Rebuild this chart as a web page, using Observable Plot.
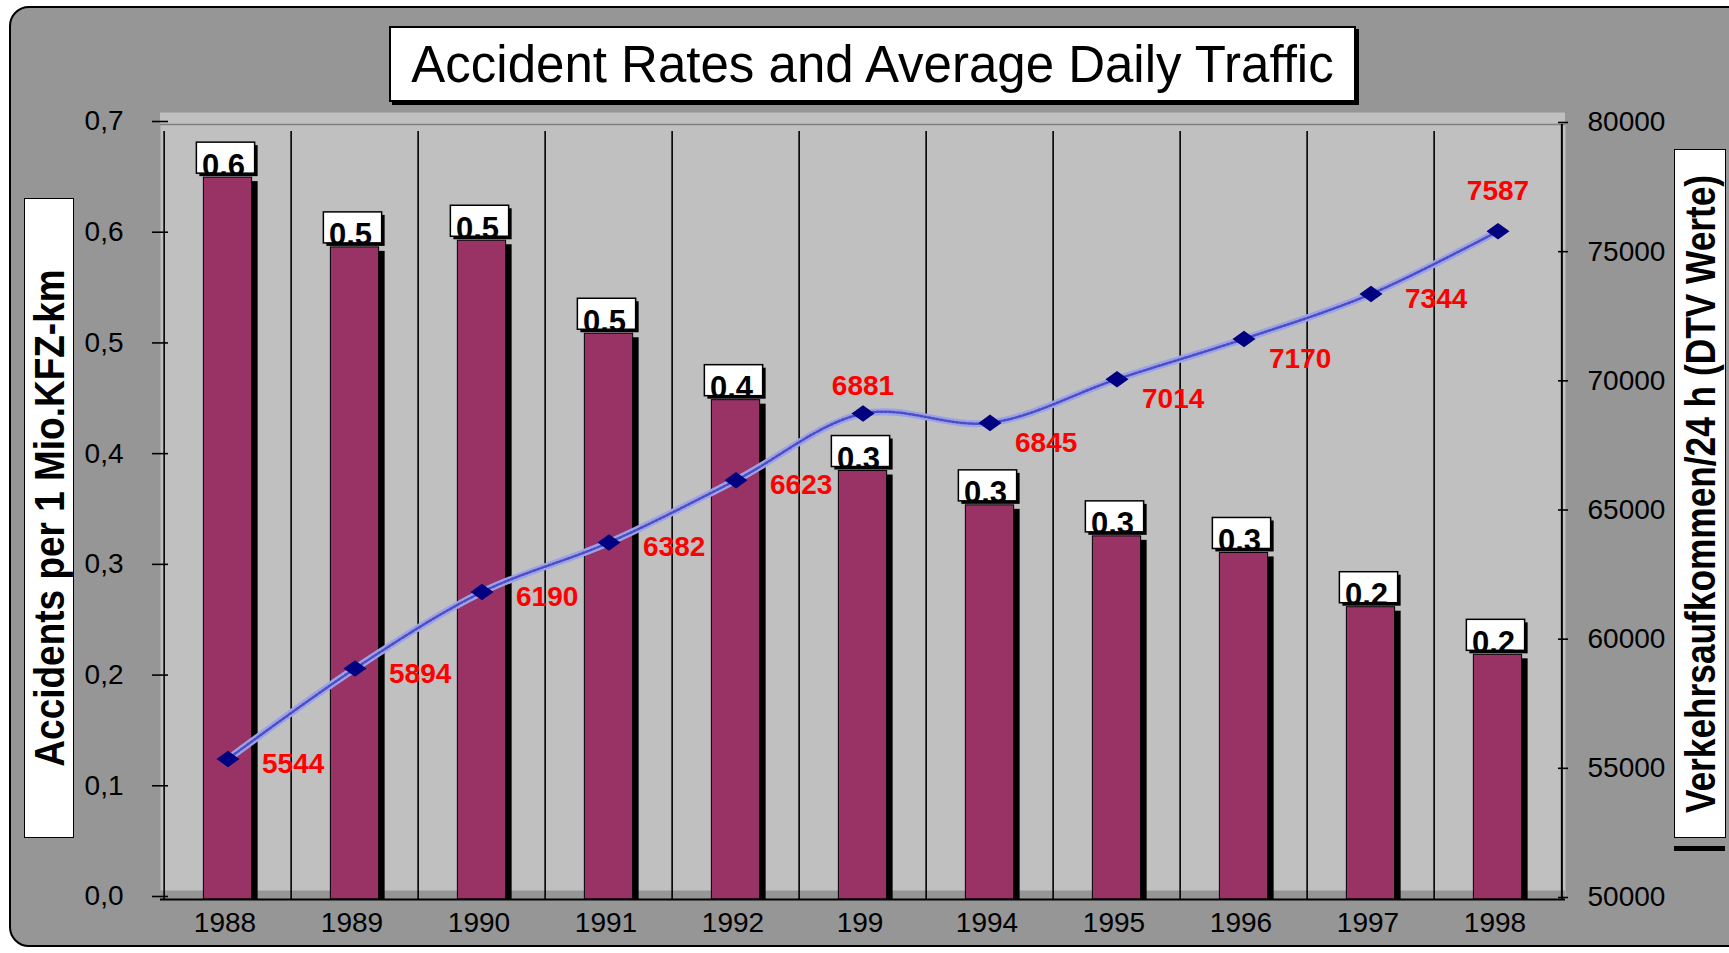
<!DOCTYPE html>
<html>
<head>
<meta charset="utf-8">
<script src="https://cdn.jsdelivr.net/npm/d3@7"></script>
<script src="https://cdn.jsdelivr.net/npm/@observablehq/plot@0.6"></script>
<style>
  html, body { margin: 0; padding: 0; background: #ffffff; overflow: hidden; }
  #stage { position: relative; width: 1729px; height: 953px; overflow: hidden; font-family: "Liberation Sans", Arial, sans-serif; }
  #outer { position: absolute; left: 9px; top: 6px; width: 1740px; height: 941px; background: #969696; border: 2.5px solid #000; border-radius: 20px; box-sizing: border-box; }
  #chart { position: absolute; left: 0; top: 0; }
  #title { position: absolute; left: 389px; top: 26px; width: 967px; height: 76px; background: #fff; border: 2px solid #000; box-shadow: 3px 3px 0 #000; box-sizing: border-box; display: flex; align-items: center; justify-content: center; font-size: 51px; color: #000; white-space: nowrap; }
  .ybox { position: absolute; background: #fff; border: 1.5px solid #000; box-sizing: border-box; }
  .ybox span { position: absolute; left: 50%; top: 50%; white-space: nowrap; color: #000; font-size: 43px; line-height: 1; }
  #ytitleL { left: 24px; top: 198px; width: 50px; height: 640px; }
  #ytitleL span { font-weight: bold; transform: translate(-50%, -50%) rotate(-90deg) scaleX(0.86); }
  #ytitleR { left: 1674px; top: 149px; width: 52px; height: 689px; }
  #ytitleR span { font-weight: bold; transform: translate(-50%, -50%) rotate(-90deg) scaleX(0.82); }
  #rbar { position: absolute; left: 1674px; top: 846px; width: 51px; height: 5px; background: #000; }
</style>
</head>
<body>
<div id="stage">
  <div id="outer"></div>
  <div id="chart"></div>
  <div id="title">Accident Rates and Average Daily Traffic</div>
  <div class="ybox" id="ytitleL"><span>Accidents per 1 Mio.KFZ-km</span></div>
  <div class="ybox" id="ytitleR"><span>Verkehrsaufkommen/24 h (DTV Werte)</span></div>
  <div id="rbar"></div>
</div>
<script>
// ---- data ----
const years = ["1988", "1989", "1990", "1991", "1992", "199", "1994", "1995", "1996", "1997", "1998"];
const rates = [0.652, 0.589, 0.595, 0.511, 0.451, 0.387, 0.356, 0.328, 0.313, 0.264, 0.221];
const rateLabels = ["0.6", "0.5", "0.5", "0.5", "0.4", "0.3", "0.3", "0.3", "0.3", "0.2", "0.2"];
const traffic = [55440, 58940, 61900, 63820, 66230, 68810, 68450, 70140, 71700, 73440, 75870];
const trafficLabels = ["5544", "5894", "6190", "6382", "6623", "6881", "6845", "7014", "7170", "7344", "7587"];
const leftTicks = [0, 0.1, 0.2, 0.3, 0.4, 0.5, 0.6, 0.7];
const leftTickLabels = ["0,0", "0,1", "0,2", "0,3", "0,4", "0,5", "0,6", "0,7"];
const rightTicks = [50000, 55000, 60000, 65000, 70000, 75000, 80000];
const rightTickLabels = ["50000", "55000", "60000", "65000", "70000", "75000", "80000"];

// ---- layout ----
const W = 1729, H = 953;
const mL = 160, mR = 164, mT = 124, mB = 54;
const band = (W - mL - mR) / years.length;
const leftMax = 0.7;
const rightMin = 50000, rightMax = 80000;
const toLeft = v => (v - rightMin) / (rightMax - rightMin) * leftMax;

const rows = years.map((year, i) => ({
  year, i,
  rate: rates[i],
  rateLabel: rateLabels[i],
  t: toLeft(traffic[i]),
  tLabel: trafficLabels[i]
}));

const groupA = new Set([0, 1, 2, 3, 4, 9]);
const groupB = new Set([6, 7, 8]);

const diamond = {
  draw(context, size) {
    const r = Math.sqrt(size / Math.PI);
    const h = r * 0.72;
    context.moveTo(0, -h);
    context.lineTo(r, 0);
    context.lineTo(0, h);
    context.lineTo(-r, 0);
    context.closePath();
  }
};

const rightTickPos = rightTicks.map(toLeft);

const chart = Plot.plot({
  width: W, height: H,
  marginLeft: mL, marginRight: mR, marginTop: mT, marginBottom: mB,
  style: { background: "transparent", fontFamily: "Liberation Sans, Arial, sans-serif", color: "#000", overflow: "visible" },
  x: { domain: years, padding: 0, axis: null, label: null },
  y: { domain: [0, leftMax], axis: null, label: null },
  marks: [
    Plot.frame({ fill: "#c0c0c0" }),
    Plot.ruleY([leftMax], { stroke: "#c0c0c0", strokeWidth: 12, dy: -6 }),
    Plot.ruleY([leftMax], { stroke: "#808080", strokeWidth: 1.5 }),
    Plot.ruleY([0], { stroke: "#969696", strokeWidth: 9, dy: -4.5 }),
    // category separators (with ticks below the axis)
    Plot.ruleX(years, { x: d => d, dx: -band / 2, y1: 0, y2: leftMax, insetBottom: -7, stroke: "#000", strokeWidth: 1.6 }),
    Plot.ruleX([years[years.length - 1]], { x: d => d, dx: band / 2, y1: 0, y2: leftMax, stroke: "#000", strokeWidth: 2 }),
    // bar shadows and bars
    Plot.barY(rows, { x: "year", y: "rate", fill: "#000", dx: 6, insetTop: 4, insetLeft: (band - 49) / 2, insetRight: (band - 49) / 2 }),
    Plot.barY(rows, { x: "year", y: "rate", fill: "#993366", stroke: "#000", strokeWidth: 1, insetLeft: (band - 49) / 2, insetRight: (band - 49) / 2 }),
    // bar label boxes
    Plot.barY(rows, { x: "year", y1: "rate", y2: "rate", fill: "#000", dx: 3, dy: 3, insetTop: -35, insetBottom: 4, insetLeft: band / 2 - 31.5, insetRight: band / 2 - 27.5 }),
    Plot.barY(rows, { x: "year", y1: "rate", y2: "rate", fill: "#fff", stroke: "#000", strokeWidth: 1.5, insetTop: -35, insetBottom: 4, insetLeft: band / 2 - 31.5, insetRight: band / 2 - 27.5 }),
    Plot.text(rows, { x: "year", y: "rate", text: "rateLabel", textAnchor: "start", dx: -26, dy: -12, fontSize: 31, fontWeight: "bold", fill: "#000" }),
    // traffic line
    Plot.line(rows, { x: "year", y: "t", curve: "catmull-rom", stroke: "#9da1e8", strokeWidth: 7 }),
    Plot.line(rows, { x: "year", y: "t", curve: "catmull-rom", stroke: "#4b4dc2", strokeWidth: 2.5, strokeDasharray: "2 2" }),
    Plot.dot(rows, { x: "year", y: "t", symbol: diamond, r: 11.5, fill: "#000080", stroke: "none" }),
    // traffic labels
    Plot.text(rows.filter(d => groupA.has(d.i)), { x: "year", y: "t", text: "tLabel", textAnchor: "start", dx: 34, dy: 5, fill: "#ff0000", fontSize: 28, fontWeight: "bold" }),
    Plot.text(rows.filter(d => groupB.has(d.i)), { x: "year", y: "t", text: "tLabel", textAnchor: "start", dx: 25, dy: 20, fill: "#ff0000", fontSize: 28, fontWeight: "bold" }),
    Plot.text(rows.filter(d => d.i === 5), { x: "year", y: "t", text: "tLabel", dy: -28, fill: "#ff0000", fontSize: 28, fontWeight: "bold" }),
    Plot.text(rows.filter(d => d.i === 10), { x: "year", y: "t", text: "tLabel", dy: -40, fill: "#ff0000", fontSize: 28, fontWeight: "bold" }),
    // axes
    Plot.ruleY([0], { stroke: "#000", strokeWidth: 2 }),
    Plot.axisX({ tickSize: 0, tickPadding: 13, fontSize: 28, dx: -3, label: null }),
    Plot.axisY({ anchor: "left", ticks: leftTicks, tickSize: 16, dx: 8, tickPadding: 29, dy: -3, fontSize: 28, strokeWidth: 1.6, label: null,
      tickFormat: d => leftTickLabels[leftTicks.indexOf(d)] }),
    Plot.axisY({ anchor: "right", ticks: rightTickPos, tickSize: 10, dx: -8, tickPadding: 20, dy: -2, fontSize: 28, strokeWidth: 1.6, label: null,
      tickFormat: d => rightTickLabels[rightTickPos.indexOf(d)] })
  ]
});
document.getElementById("chart").appendChild(chart);
</script>
</body>
</html>
